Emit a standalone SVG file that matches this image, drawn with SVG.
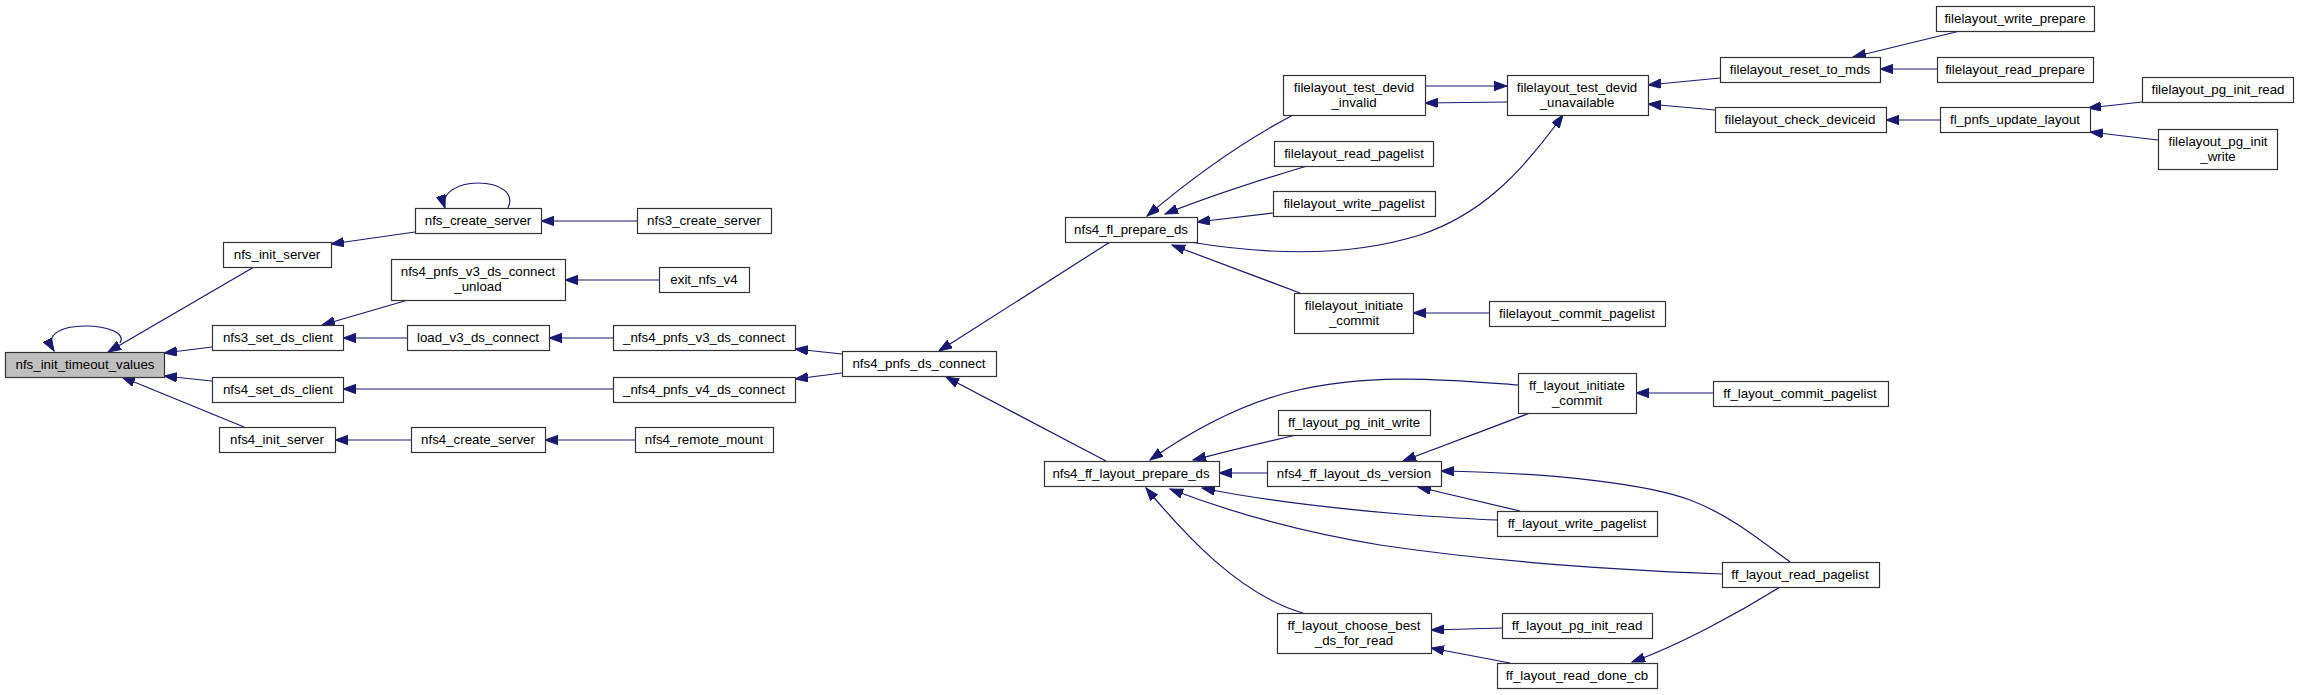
<svg xmlns="http://www.w3.org/2000/svg" width="2299" height="695" viewBox="0 0 2299 695">
<style>
.n rect{fill:#fff;stroke:#333;stroke-width:1.2}
.n.root rect{fill:#bfbfbf}
.n text{font-family:"Liberation Sans",Arial,sans-serif;font-size:13.3px;fill:#000;text-anchor:middle}
.e path{fill:none;stroke:#191970;stroke-width:1.2;marker-start:url(#ah)}
</style>
<defs>
<marker id="ah" markerUnits="userSpaceOnUse" markerWidth="14" markerHeight="10" refX="13" refY="4.65" orient="auto-start-reverse">
<path d="M0,0 L13,4.65 L0,9.3 z" fill="#191970" stroke="#191970" stroke-width="1"/>
</marker>
</defs>
<rect width="2299" height="695" fill="#fff"/>
<g id="edges" class="e">
<path d="M54,351 C44,334 62,326 85,326 C108,326 126,333 120,343"/>
<path d="M108,352 L254,267"/>
<path d="M164,353 L212,347"/>
<path d="M164,376 L212,381"/>
<path d="M122,377 L244,427"/>
<path d="M331,244 L415,232"/>
<path d="M445,208 C440,193 458,183 478,183 C500,183 515,193 508,208"/>
<path d="M541,221 L637,221"/>
<path d="M322,325 L408,300"/>
<path d="M343,338 L407,338"/>
<path d="M565,280 L659,280"/>
<path d="M549,338 L613,338"/>
<path d="M343,389 L613,389"/>
<path d="M335,440 L411,440"/>
<path d="M545,440 L635,440"/>
<path d="M795,349 L842,354"/>
<path d="M795,379 L842,373"/>
<path d="M939,351 L1110,242"/>
<path d="M946,377 L1106,461"/>
<path d="M1147,216 C1180,188 1230,148 1295,114"/>
<path d="M1165,214 C1200,200 1260,180 1307,166"/>
<path d="M1197,222 L1273,213"/>
<path d="M1563,115 C1520,175 1480,215 1420,235 C1340,260 1250,252 1190,242"/>
<path d="M1507,86 L1425,86"/>
<path d="M1425,103 L1507,102"/>
<path d="M1172,245 L1300,293"/>
<path d="M1413,313 L1489,313"/>
<path d="M1648,85 L1720,78"/>
<path d="M1648,104 L1715,110"/>
<path d="M1853,57 L1960,31"/>
<path d="M1880,69 L1937,69"/>
<path d="M1886,120 L1940,120"/>
<path d="M2088,108 L2142,102"/>
<path d="M2090,132 L2158,140"/>
<path d="M1150,460 C1190,432 1240,405 1290,392 C1370,372 1450,380 1518,385"/>
<path d="M1193,460 C1225,452 1260,443 1297,435"/>
<path d="M1219,473 L1267,473"/>
<path d="M1202,488 C1260,500 1330,508 1400,514 C1440,517 1470,519 1497,520"/>
<path d="M1170,489 C1230,512 1300,532 1380,545 C1500,563 1620,570 1722,574"/>
<path d="M1146,488 C1185,535 1240,595 1303,613"/>
<path d="M1403,461 L1530,413"/>
<path d="M1441,471 C1560,473 1650,485 1690,500 C1730,515 1760,540 1790,562"/>
<path d="M1418,487 L1520,511"/>
<path d="M1636,393 L1713,393"/>
<path d="M1431,630 L1502,628"/>
<path d="M1431,648 L1510,663"/>
<path d="M1632,662 C1680,645 1740,612 1780,587"/>
</g>
<g id="n_nfs_init_timeout_values" class="n root"><rect x="5.5" y="352.5" width="159" height="25"/><text x="85" y="369">nfs_init_timeout_values</text></g>
<g id="n_nfs_init_server" class="n"><rect x="223.5" y="242.5" width="108" height="25"/><text x="277" y="259">nfs_init_server</text></g>
<g id="n_nfs3_set_ds_client" class="n"><rect x="212.5" y="325.5" width="131" height="25"/><text x="278" y="342">nfs3_set_ds_client</text></g>
<g id="n_nfs4_set_ds_client" class="n"><rect x="212.5" y="377.5" width="131" height="25"/><text x="278" y="394">nfs4_set_ds_client</text></g>
<g id="n_nfs4_init_server" class="n"><rect x="219.5" y="427.5" width="116" height="25"/><text x="277" y="444">nfs4_init_server</text></g>
<g id="n_nfs_create_server" class="n"><rect x="415.5" y="208.5" width="126" height="25"/><text x="478" y="225">nfs_create_server</text></g>
<g id="n_nfs3_create_server" class="n"><rect x="637.5" y="208.5" width="134" height="25"/><text x="704" y="225">nfs3_create_server</text></g>
<g id="n_nfs4_pnfs_v3_ds_connect_unload" class="n"><rect x="391.5" y="259.5" width="174" height="41"/><text x="478" y="276">nfs4_pnfs_v3_ds_connect</text><text x="478" y="291">_unload</text></g>
<g id="n_exit_nfs_v4" class="n"><rect x="659.5" y="267.5" width="90" height="25"/><text x="704" y="284">exit_nfs_v4</text></g>
<g id="n_load_v3_ds_connect" class="n"><rect x="407.5" y="325.5" width="142" height="25"/><text x="478" y="342">load_v3_ds_connect</text></g>
<g id="n__nfs4_pnfs_v3_ds_connect" class="n"><rect x="613.5" y="325.5" width="182" height="25"/><text x="704" y="342">_nfs4_pnfs_v3_ds_connect</text></g>
<g id="n__nfs4_pnfs_v4_ds_connect" class="n"><rect x="613.5" y="377.5" width="182" height="25"/><text x="704" y="394">_nfs4_pnfs_v4_ds_connect</text></g>
<g id="n_nfs4_create_server" class="n"><rect x="411.5" y="427.5" width="134" height="25"/><text x="478" y="444">nfs4_create_server</text></g>
<g id="n_nfs4_remote_mount" class="n"><rect x="635.5" y="427.5" width="138" height="25"/><text x="704" y="444">nfs4_remote_mount</text></g>
<g id="n_nfs4_pnfs_ds_connect" class="n"><rect x="842.5" y="351.5" width="154" height="25"/><text x="919" y="368">nfs4_pnfs_ds_connect</text></g>
<g id="n_nfs4_fl_prepare_ds" class="n"><rect x="1065.5" y="217.5" width="132" height="25"/><text x="1131" y="234">nfs4_fl_prepare_ds</text></g>
<g id="n_nfs4_ff_layout_prepare_ds" class="n"><rect x="1044.5" y="461.5" width="175" height="25"/><text x="1131" y="478">nfs4_ff_layout_prepare_ds</text></g>
<g id="n_filelayout_test_devid_invalid" class="n"><rect x="1283.5" y="75.5" width="142" height="40"/><text x="1354" y="92">filelayout_test_devid</text><text x="1354" y="107">_invalid</text></g>
<g id="n_filelayout_read_pagelist" class="n"><rect x="1274.5" y="141.5" width="159" height="25"/><text x="1354" y="158">filelayout_read_pagelist</text></g>
<g id="n_filelayout_write_pagelist" class="n"><rect x="1273.5" y="191.5" width="162" height="25"/><text x="1354" y="208">filelayout_write_pagelist</text></g>
<g id="n_filelayout_initiate_commit" class="n"><rect x="1294.5" y="293.5" width="119" height="40"/><text x="1354" y="310">filelayout_initiate</text><text x="1354" y="325">_commit</text></g>
<g id="n_filelayout_commit_pagelist" class="n"><rect x="1489.5" y="301.5" width="176" height="25"/><text x="1577" y="318">filelayout_commit_pagelist</text></g>
<g id="n_filelayout_test_devid_unavailable" class="n"><rect x="1507.5" y="75.5" width="141" height="40"/><text x="1577" y="92">filelayout_test_devid</text><text x="1577" y="107">_unavailable</text></g>
<g id="n_filelayout_reset_to_mds" class="n"><rect x="1720.5" y="57.5" width="160" height="25"/><text x="1800" y="74">filelayout_reset_to_mds</text></g>
<g id="n_filelayout_check_deviceid" class="n"><rect x="1715.5" y="107.5" width="171" height="25"/><text x="1800" y="124">filelayout_check_deviceid</text></g>
<g id="n_filelayout_write_prepare" class="n"><rect x="1936.5" y="6.5" width="158" height="25"/><text x="2015" y="23">filelayout_write_prepare</text></g>
<g id="n_filelayout_read_prepare" class="n"><rect x="1937.5" y="57.5" width="156" height="25"/><text x="2015" y="74">filelayout_read_prepare</text></g>
<g id="n_fl_pnfs_update_layout" class="n"><rect x="1940.5" y="107.5" width="150" height="25"/><text x="2015" y="124">fl_pnfs_update_layout</text></g>
<g id="n_filelayout_pg_init_read" class="n"><rect x="2142.5" y="77.5" width="151" height="25"/><text x="2218" y="94">filelayout_pg_init_read</text></g>
<g id="n_filelayout_pg_init_write" class="n"><rect x="2158.5" y="129.5" width="119" height="40"/><text x="2218" y="146">filelayout_pg_init</text><text x="2218" y="161">_write</text></g>
<g id="n_ff_layout_pg_init_write" class="n"><rect x="1278.5" y="410.5" width="152" height="25"/><text x="1354" y="427">ff_layout_pg_init_write</text></g>
<g id="n_nfs4_ff_layout_ds_version" class="n"><rect x="1267.5" y="461.5" width="174" height="25"/><text x="1354" y="478">nfs4_ff_layout_ds_version</text></g>
<g id="n_ff_layout_choose_best_ds_for_read" class="n"><rect x="1277.5" y="613.5" width="154" height="40"/><text x="1354" y="630">ff_layout_choose_best</text><text x="1354" y="645">_ds_for_read</text></g>
<g id="n_ff_layout_initiate_commit" class="n"><rect x="1518.5" y="373.5" width="118" height="40"/><text x="1577" y="390">ff_layout_initiate</text><text x="1577" y="405">_commit</text></g>
<g id="n_ff_layout_commit_pagelist" class="n"><rect x="1713.5" y="381.5" width="175" height="25"/><text x="1800" y="398">ff_layout_commit_pagelist</text></g>
<g id="n_ff_layout_write_pagelist" class="n"><rect x="1497.5" y="511.5" width="160" height="25"/><text x="1577" y="528">ff_layout_write_pagelist</text></g>
<g id="n_ff_layout_read_pagelist" class="n"><rect x="1722.5" y="562.5" width="157" height="25"/><text x="1800" y="579">ff_layout_read_pagelist</text></g>
<g id="n_ff_layout_pg_init_read" class="n"><rect x="1502.5" y="613.5" width="150" height="25"/><text x="1577" y="630">ff_layout_pg_init_read</text></g>
<g id="n_ff_layout_read_done_cb" class="n"><rect x="1497.5" y="663.5" width="160" height="25"/><text x="1577" y="680">ff_layout_read_done_cb</text></g>
</svg>
